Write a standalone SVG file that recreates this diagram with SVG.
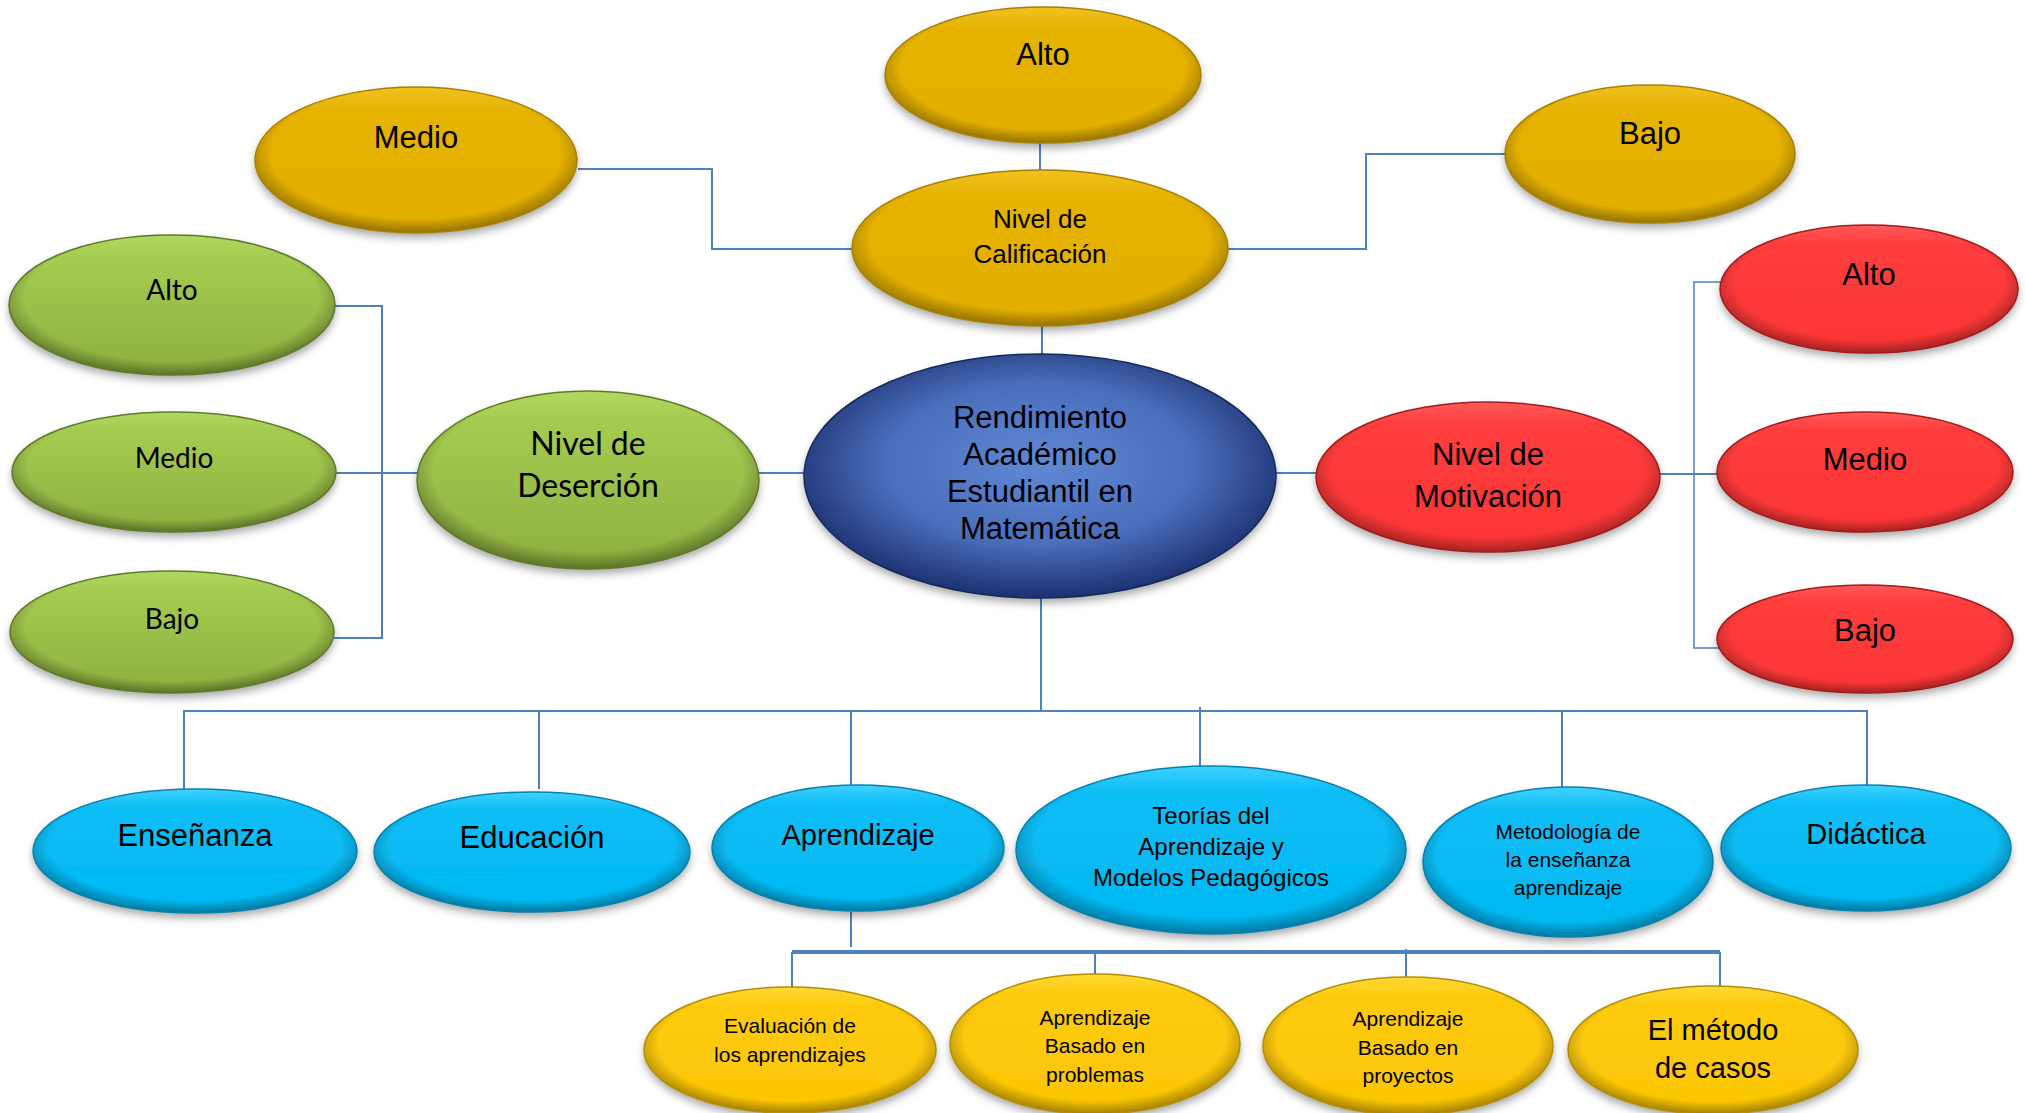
<svg xmlns="http://www.w3.org/2000/svg" width="2026" height="1113" viewBox="0 0 2026 1113">
<defs>
<filter id="sh" x="-10%" y="-10%" width="120%" height="130%">
<feDropShadow dx="0" dy="5" stdDeviation="4" flood-color="#000" flood-opacity="0.35"/>
</filter>
<linearGradient id="gGold" x1="0" y1="0" x2="0" y2="1">
<stop offset="0" stop-color="#F0C21E"/><stop offset="0.15" stop-color="#E6B305"/><stop offset="1" stop-color="#E2AE02"/>
</linearGradient>
<linearGradient id="gGold2" x1="0" y1="0" x2="0" y2="1">
<stop offset="0" stop-color="#FFD936"/><stop offset="0.15" stop-color="#FDCA0A"/><stop offset="1" stop-color="#FBC605"/>
</linearGradient>
<linearGradient id="gGreen" x1="0" y1="0" x2="0" y2="1">
<stop offset="0" stop-color="#B2D762"/><stop offset="0.15" stop-color="#A5CC51"/><stop offset="1" stop-color="#8EAF3F"/>
</linearGradient>
<linearGradient id="gRed" x1="0" y1="0" x2="0" y2="1">
<stop offset="0" stop-color="#FF5A5A"/><stop offset="0.15" stop-color="#FF3D3D"/><stop offset="1" stop-color="#FB3535"/>
</linearGradient>
<linearGradient id="gCyan" x1="0" y1="0" x2="0" y2="1">
<stop offset="0" stop-color="#3FD2FF"/><stop offset="0.15" stop-color="#0CBDF6"/><stop offset="1" stop-color="#02B8F2"/>
</linearGradient>
<radialGradient id="gBlue" cx="0.5" cy="0.45" r="0.55">
<stop offset="0" stop-color="#6088D4"/><stop offset="0.6" stop-color="#4A6EBB"/><stop offset="1" stop-color="#1C3170"/>
</radialGradient>
<radialGradient id="rim" cx="0.5" cy="0.45" r="0.55">
<stop offset="0.82" stop-color="#000" stop-opacity="0"/><stop offset="1" stop-color="#000" stop-opacity="0.35"/>
</radialGradient>
<style>
.n{filter:url(#sh)}
.rim{fill:url(#rim);stroke:none}
.edge{fill:none;stroke-width:1.5}
text{font-family:"Liberation Sans",Arial,sans-serif;fill:#000;text-anchor:middle}
.cal{font-family:Lato,"Liberation Sans",sans-serif}
.c{fill:none;stroke:#4F81BD;stroke-width:2}
</style>
</defs>
<g id="connectors">
<path class="c" d="M1040 143V172"/>
<path class="c" d="M578 169H712V249H852"/>
<path class="c" d="M1227 249H1366V154H1505"/>
<path class="c" d="M1042 326V355"/>
<path class="c" d="M334 306H382V638H334"/>
<path class="c" d="M336 473H417"/>
<path class="c" d="M759 473H806"/>
<path class="c" d="M1275 473H1318"/>
<path class="c" d="M1659 474H1719"/>
<path class="c" d="M1722 282H1694V648H1719" style="stroke-width:1.5"/>
<path class="c" d="M1041 597V711"/>
<path class="c" d="M184 789V711H1867V787"/>
<path class="c" d="M539 711V789"/>
<path class="c" d="M851 711V787"/>
<path class="c" d="M1200 707V768"/>
<path class="c" d="M1562 711V789"/>
<path class="c" d="M851 912V947"/>
<path class="c" d="M792 988V952"/>
<path class="c" d="M792 952H1720" style="stroke-width:4"/>
<path class="c" d="M1720 952V989"/>
<path class="c" d="M1095 952V988"/>
<path class="c" d="M1406 949V979"/>
</g>
<g id="top-alto"><ellipse class="n" cx="1043" cy="75" rx="158" ry="68" fill="url(#gGold)"/><ellipse class="rim" cx="1043" cy="75" rx="158" ry="68"/><ellipse class="edge" cx="1043" cy="75" rx="158" ry="68" stroke="#A98100"/><text x="1043" y="65" font-size="31">Alto</text></g>
<g id="top-medio"><ellipse class="n" cx="416" cy="160" rx="161" ry="73" fill="url(#gGold)"/><ellipse class="rim" cx="416" cy="160" rx="161" ry="73"/><ellipse class="edge" cx="416" cy="160" rx="161" ry="73" stroke="#A98100"/><text x="416" y="148" font-size="31">Medio</text></g>
<g id="top-bajo"><ellipse class="n" cx="1650" cy="154" rx="145" ry="69" fill="url(#gGold)"/><ellipse class="rim" cx="1650" cy="154" rx="145" ry="69"/><ellipse class="edge" cx="1650" cy="154" rx="145" ry="69" stroke="#A98100"/><text x="1650" y="144" font-size="31">Bajo</text></g>
<g id="calificacion"><ellipse class="n" cx="1040" cy="248" rx="188" ry="78" fill="url(#gGold)"/><ellipse class="rim" cx="1040" cy="248" rx="188" ry="78"/><ellipse class="edge" cx="1040" cy="248" rx="188" ry="78" stroke="#A98100"/><text x="1040" y="228" font-size="26">Nivel de</text><text x="1040" y="263" font-size="26">Calificación</text></g>
<g id="rendimiento"><ellipse class="n" cx="1040" cy="476" rx="236" ry="122" fill="url(#gBlue)"/><ellipse class="edge" cx="1040" cy="476" rx="236" ry="122" stroke="#15285A"/><text x="1040" y="428" font-size="31">Rendimiento</text><text x="1040" y="465" font-size="31">Académico</text><text x="1040" y="502" font-size="31">Estudiantil en</text><text x="1040" y="539" font-size="31">Matemática</text></g>
<g id="des-alto"><ellipse class="n" cx="172" cy="305" rx="163" ry="70" fill="url(#gGreen)"/><ellipse class="rim" cx="172" cy="305" rx="163" ry="70"/><ellipse class="edge" cx="172" cy="305" rx="163" ry="70" stroke="#5F7A25"/><text class="cal" x="172" y="300" font-size="28">Alto</text></g>
<g id="des-medio"><ellipse class="n" cx="174" cy="472" rx="162" ry="60" fill="url(#gGreen)"/><ellipse class="rim" cx="174" cy="472" rx="162" ry="60"/><ellipse class="edge" cx="174" cy="472" rx="162" ry="60" stroke="#5F7A25"/><text class="cal" x="174" y="468" font-size="28">Medio</text></g>
<g id="des-bajo"><ellipse class="n" cx="172" cy="632" rx="162" ry="61" fill="url(#gGreen)"/><ellipse class="rim" cx="172" cy="632" rx="162" ry="61"/><ellipse class="edge" cx="172" cy="632" rx="162" ry="61" stroke="#5F7A25"/><text class="cal" x="172" y="629" font-size="28">Bajo</text></g>
<g id="desercion"><ellipse class="n" cx="588" cy="480" rx="171" ry="89" fill="url(#gGreen)"/><ellipse class="rim" cx="588" cy="480" rx="171" ry="89"/><ellipse class="edge" cx="588" cy="480" rx="171" ry="89" stroke="#5F7A25"/><text class="cal" x="588" y="455" font-size="32">Nivel de</text><text class="cal" x="588" y="497" font-size="32">Deserción</text></g>
<g id="motivacion"><ellipse class="n" cx="1488" cy="477" rx="172" ry="75" fill="url(#gRed)"/><ellipse class="rim" cx="1488" cy="477" rx="172" ry="75"/><ellipse class="edge" cx="1488" cy="477" rx="172" ry="75" stroke="#A51A1A"/><text x="1488" y="465" font-size="31">Nivel de</text><text x="1488" y="507" font-size="31">Motivación</text></g>
<g id="mot-alto"><ellipse class="n" cx="1869" cy="289" rx="149" ry="64" fill="url(#gRed)"/><ellipse class="rim" cx="1869" cy="289" rx="149" ry="64"/><ellipse class="edge" cx="1869" cy="289" rx="149" ry="64" stroke="#A51A1A"/><text x="1869" y="285" font-size="31">Alto</text></g>
<g id="mot-medio"><ellipse class="n" cx="1865" cy="472" rx="148" ry="60" fill="url(#gRed)"/><ellipse class="rim" cx="1865" cy="472" rx="148" ry="60"/><ellipse class="edge" cx="1865" cy="472" rx="148" ry="60" stroke="#A51A1A"/><text x="1865" y="470" font-size="31">Medio</text></g>
<g id="mot-bajo"><ellipse class="n" cx="1865" cy="639" rx="148" ry="54" fill="url(#gRed)"/><ellipse class="rim" cx="1865" cy="639" rx="148" ry="54"/><ellipse class="edge" cx="1865" cy="639" rx="148" ry="54" stroke="#A51A1A"/><text x="1865" y="641" font-size="31">Bajo</text></g>
<g id="ensenanza"><ellipse class="n" cx="195" cy="851" rx="162" ry="62" fill="url(#gCyan)"/><ellipse class="rim" cx="195" cy="851" rx="162" ry="62"/><ellipse class="edge" cx="195" cy="851" rx="162" ry="62" stroke="#0582AE"/><text x="195" y="846" font-size="31">Enseñanza</text></g>
<g id="educacion"><ellipse class="n" cx="532" cy="852" rx="158" ry="60" fill="url(#gCyan)"/><ellipse class="rim" cx="532" cy="852" rx="158" ry="60"/><ellipse class="edge" cx="532" cy="852" rx="158" ry="60" stroke="#0582AE"/><text x="532" y="848" font-size="31">Educación</text></g>
<g id="aprendizaje"><ellipse class="n" cx="858" cy="848" rx="146" ry="63" fill="url(#gCyan)"/><ellipse class="rim" cx="858" cy="848" rx="146" ry="63"/><ellipse class="edge" cx="858" cy="848" rx="146" ry="63" stroke="#0582AE"/><text x="858" y="845" font-size="29">Aprendizaje</text></g>
<g id="teorias"><ellipse class="n" cx="1211" cy="850" rx="195" ry="84" fill="url(#gCyan)"/><ellipse class="rim" cx="1211" cy="850" rx="195" ry="84"/><ellipse class="edge" cx="1211" cy="850" rx="195" ry="84" stroke="#0582AE"/><text x="1211" y="824" font-size="24">Teorías del</text><text x="1211" y="855" font-size="24">Aprendizaje y</text><text x="1211" y="886" font-size="24">Modelos Pedagógicos</text></g>
<g id="metodologia"><ellipse class="n" cx="1568" cy="862" rx="145" ry="75" fill="url(#gCyan)"/><ellipse class="rim" cx="1568" cy="862" rx="145" ry="75"/><ellipse class="edge" cx="1568" cy="862" rx="145" ry="75" stroke="#0582AE"/><text x="1568" y="839" font-size="21">Metodología de</text><text x="1568" y="867" font-size="21">la enseñanza</text><text x="1568" y="895" font-size="21">aprendizaje</text></g>
<g id="didactica"><ellipse class="n" cx="1866" cy="848" rx="145" ry="63" fill="url(#gCyan)"/><ellipse class="rim" cx="1866" cy="848" rx="145" ry="63"/><ellipse class="edge" cx="1866" cy="848" rx="145" ry="63" stroke="#0582AE"/><text x="1866" y="844" font-size="29">Didáctica</text></g>
<g id="evaluacion"><ellipse class="n" cx="790" cy="1050" rx="146" ry="63" fill="url(#gGold2)"/><ellipse class="rim" cx="790" cy="1050" rx="146" ry="63"/><ellipse class="edge" cx="790" cy="1050" rx="146" ry="63" stroke="#B58F00"/><text x="790" y="1033" font-size="21">Evaluación de</text><text x="790" y="1062" font-size="21">los aprendizajes</text></g>
<g id="abp-problemas"><ellipse class="n" cx="1095" cy="1044" rx="145" ry="70" fill="url(#gGold2)"/><ellipse class="rim" cx="1095" cy="1044" rx="145" ry="70"/><ellipse class="edge" cx="1095" cy="1044" rx="145" ry="70" stroke="#B58F00"/><text x="1095" y="1025" font-size="21">Aprendizaje</text><text x="1095" y="1053" font-size="21">Basado en</text><text x="1095" y="1082" font-size="21">problemas</text></g>
<g id="abp-proyectos"><ellipse class="n" cx="1408" cy="1046" rx="145" ry="69" fill="url(#gGold2)"/><ellipse class="rim" cx="1408" cy="1046" rx="145" ry="69"/><ellipse class="edge" cx="1408" cy="1046" rx="145" ry="69" stroke="#B58F00"/><text x="1408" y="1026" font-size="21">Aprendizaje</text><text x="1408" y="1055" font-size="21">Basado en</text><text x="1408" y="1083" font-size="21">proyectos</text></g>
<g id="metodo-casos"><ellipse class="n" cx="1713" cy="1050" rx="145" ry="64" fill="url(#gGold2)"/><ellipse class="rim" cx="1713" cy="1050" rx="145" ry="64"/><ellipse class="edge" cx="1713" cy="1050" rx="145" ry="64" stroke="#B58F00"/><text x="1713" y="1040" font-size="29">El método</text><text x="1713" y="1078" font-size="29">de casos</text></g>
</svg>
